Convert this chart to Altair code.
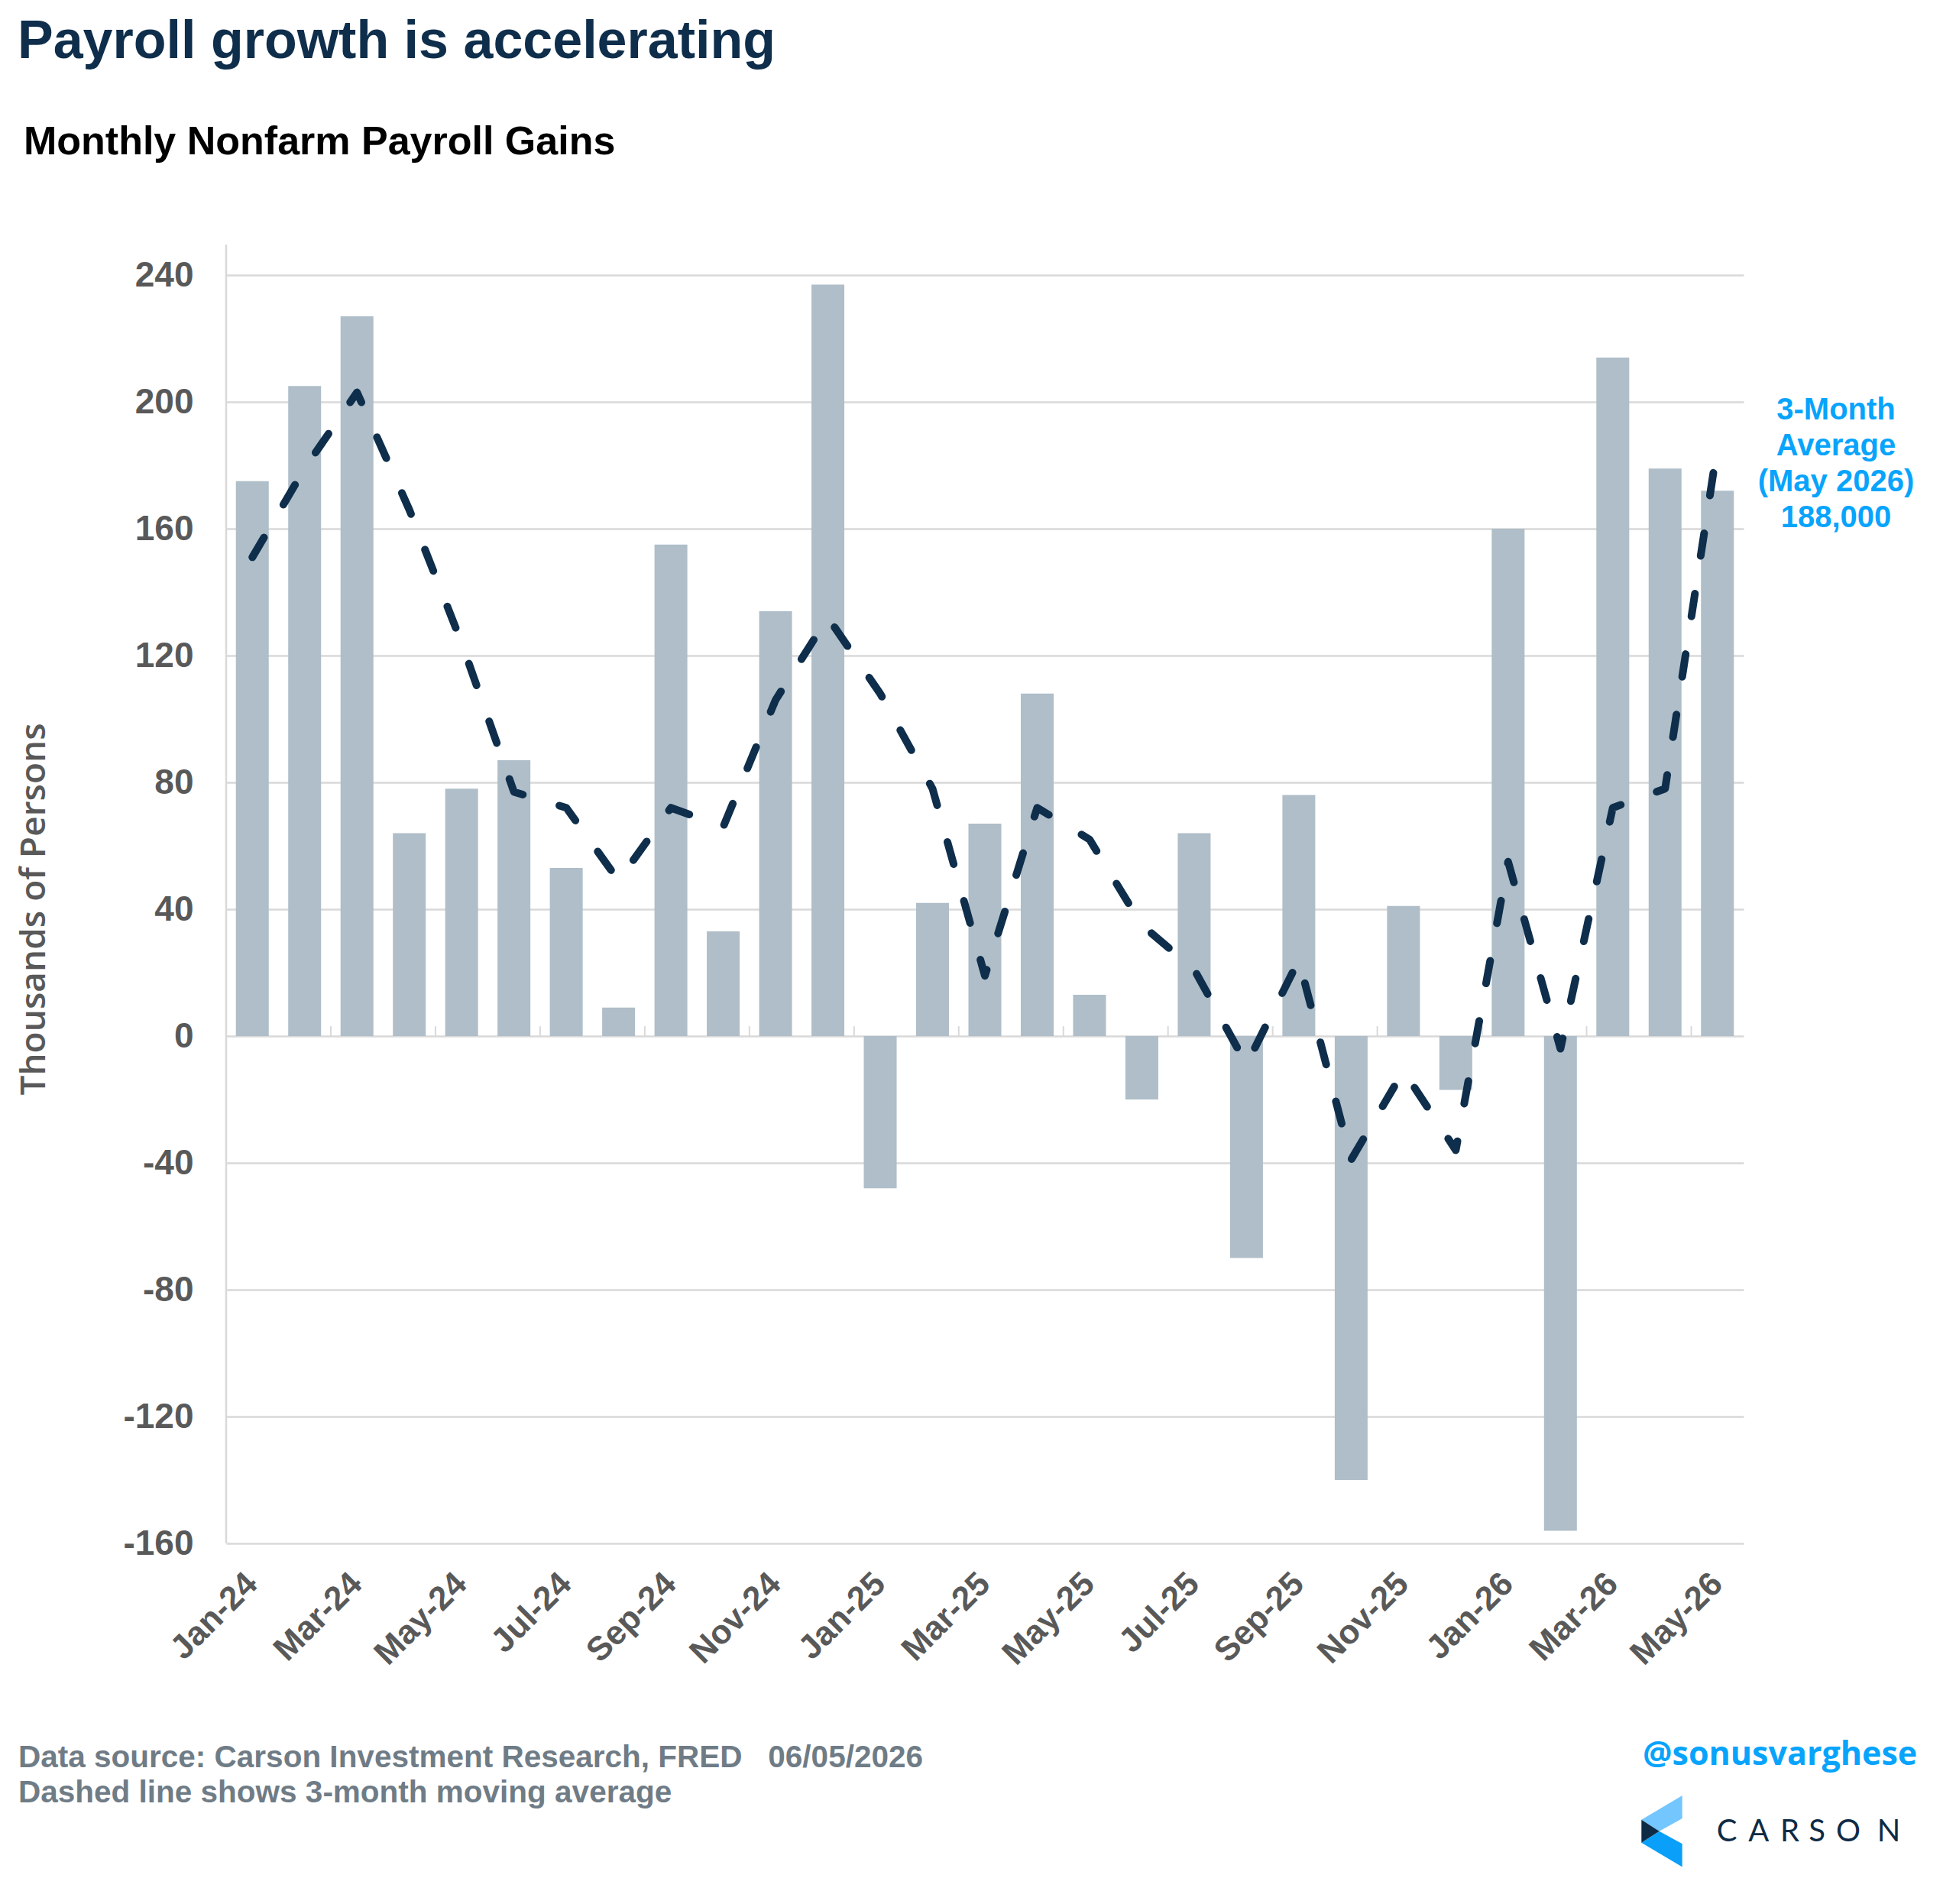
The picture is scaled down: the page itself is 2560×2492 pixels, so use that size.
import altair as alt
import pandas as pd

months = ["Jan-24","Feb-24","Mar-24","Apr-24","May-24","Jun-24","Jul-24","Aug-24","Sep-24","Oct-24",
          "Nov-24","Dec-24","Jan-25","Feb-25","Mar-25","Apr-25","May-25","Jun-25","Jul-25","Aug-25",
          "Sep-25","Oct-25","Nov-25","Dec-25","Jan-26","Feb-26","Mar-26","Apr-26","May-26"]
payrolls = [175, 205, 227, 64, 78, 87, 53, 9, 155, 33, 134, 237, -48, 42, 67, 108, 13, -20, 64, -70,
            76, -140, 41, -17, 160, -156, 214, 179, 172]
avg3 = [151, 179, 203, 166, 124, 77, 72, 49, 72, 66, 106, 132, 108, 78, 19, 72, 62, 35, 21, -9,
        24, -39, -11, -36, 55, -4, 72, 78, 186]
label_months = months[::2]
tick_months = months[1:28:2]
y_ticks = [-160, -120, -80, -40, 0, 40, 80, 120, 160, 200, 240]
logo_letters = ["C", "A", "R", "S", "O", "N"]

W, H = 1986, 1660
STEP = W / len(months)
GRID = "#d9d9d9"
NAVY = "#0e2e4b"
BLUE = "#08a4fc"
GRAY = "#595959"

df = pd.DataFrame({"month": months, "value": payrolls, "avg": avg3})
ticks_df = pd.DataFrame({"month": tick_months})

xscale = alt.Scale(domain=months, paddingInner=0.372, paddingOuter=0.186)
xaxis = alt.Axis(values=label_months, labelAngle=315, labelAlign="right", labelBaseline="middle",
                 labelFont="Liberation Sans", labelFontWeight="bold", labelFontSize=44,
                 labelColor=GRAY, labelPadding=46, ticks=False, domain=False, grid=False,
                 labelOverlap=False, labelBound=False, labelFlush=False, title=None)
yscale = alt.Scale(domain=[-160, 240], nice=False, zero=False)
yaxis = alt.Axis(values=y_ticks, grid=True, gridColor=GRID, gridWidth=2.5, domain=False,
                 ticks=False, tickSize=0, labelPadding=43, labelFont="Liberation Sans",
                 labelFontWeight="bold", labelFontSize=46, labelColor=GRAY, title=None,
                 labelExpr="'' + datum.value")

base = alt.Chart(df)
bars = base.mark_bar(color="#afbec8").encode(
    x=alt.X("month:N", sort=months, scale=xscale, axis=xaxis),
    y=alt.Y("value:Q", scale=yscale, axis=yaxis),
)
line = base.mark_line(color=NAVY, strokeWidth=10, strokeDash=[30, 50],
                      strokeCap="round", strokeJoin="round").encode(
    x=alt.X("month:N", sort=months),
    y=alt.Y("avg:Q"),
)
zero_ticks = alt.Chart(ticks_df).mark_rule(color=GRID, strokeWidth=2, xOffset=STEP / 2).encode(
    x=alt.X("month:N", sort=months),
    y=alt.Y(datum=0),
    y2=alt.Y2(datum=3.1),
)
one = pd.DataFrame({"k": [0]})
yline = alt.Chart(one).mark_rule(color=GRID, strokeWidth=2.5).encode(
    x=alt.value(0), y=alt.value(-40), y2=alt.value(H))


def txt(text, x, y, size, color, font="Liberation Sans", weight="bold", align="left",
        baseline="alphabetic", angle=0, **kw):
    return alt.Chart(one).mark_text(text=text, font=font, fontSize=size, fontWeight=weight,
                                    color=color, align=align, baseline=baseline, angle=angle,
                                    **kw).encode(x=alt.value(x), y=alt.value(y))


title = txt("Payroll growth is accelerating", -273, -284, 70, NAVY)
subtitle = txt("Monthly Nonfarm Payroll Gains", -265, -158, 52, "#000000")
ytitle = txt("Thousands of Persons", -251, H / 2, 46, GRAY, font="Open Sans", weight=600,
             align="center", baseline="middle", angle=270)
annot = txt(["3-Month", "Average", "(May 2026)", "188,000"], 2107, 189, 40, BLUE,
            align="center", lineHeight=47)
foot1 = txt("Data source: Carson Investment Research, FRED\u00a0\u00a0\u00a006/05/2026", -272, 1953, 40.5,
            "#6f7c86")
foot2 = txt("Dashed line shows 3-month moving average", -272, 1999, 40.5, "#6f7c86")
handle = txt("@sonusvarghese", 1854, 1950, 43, BLUE, font="Open Sans", weight="bold")

letter_x = [1964, 2005.7, 2046.5, 2082, 2123, 2176]
carson = [txt(ch, lx, 2050, 40, "#0e2b45", font="Lato", weight="normal", align="center")
          for ch, lx in zip(logo_letters, letter_x)]

LX, LY, LS = 1879, 2036.7, 8724
upper = "M-0.572,-0.321 L0.572,-1 L0.572,-0.358 L-0.071,0 Z"
lower = "M-0.071,0 L0.572,0.355 L0.572,1 L-0.572,0.321 Z"
dark = "M-0.572,-0.321 L-0.071,0 L-0.572,0.321 Z"


def shape(path, color):
    return alt.Chart(one).mark_point(shape=path, size=LS, filled=True, color=color,
                                     opacity=1, strokeWidth=0).encode(
        x=alt.value(LX), y=alt.value(LY))


chart = alt.layer(
    bars, zero_ticks, yline, line, title, subtitle, ytitle, annot, foot1, foot2, handle,
    *carson,
    shape(upper, "#74c6ff"), shape(lower, "#0aa0fa"), shape(dark, "#0e2b45")
).properties(
    width=W, height=H,
    background="white",
    autosize=alt.AutoSizeParams(type="none"),
    padding={"left": 288, "top": 352, "right": 270, "bottom": 464},
).configure_view(stroke=None)

chart.save("out.html", embed_options={"renderer": "svg", "actions": False})
